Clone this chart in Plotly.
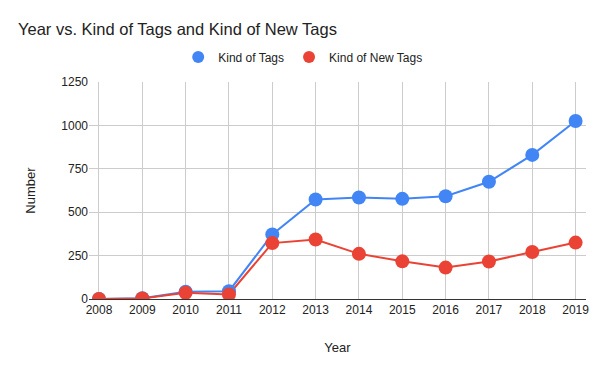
import plotly.graph_objects as go

years = [2008, 2009, 2010, 2011, 2012, 2013, 2014, 2015, 2016, 2017, 2018, 2019]
kind_of_tags = [0, 4, 42, 45, 372, 573, 585, 577, 592, 675, 830, 1025]
kind_of_new_tags = [0, 3, 36, 26, 322, 343, 260, 217, 181, 216, 271, 325]

series = [("Kind of Tags", kind_of_tags, "#4285F4"),
          ("Kind of New Tags", kind_of_new_tags, "#EA4335")]

FONT = "Arial, 'Liberation Sans', sans-serif"

fig = go.Figure()
for name, vals, col in series:
    fig.add_trace(go.Scatter(x=years, y=vals, name=name, mode="lines", legendgroup=name,
                             showlegend=False, line=dict(color=col, width=2), hoverinfo="skip"))
for name, vals, col in series:
    fig.add_trace(go.Scatter(x=years, y=vals, name=name, mode="markers", legendgroup=name,
                             marker=dict(size=14, color=col)))

fig.update_layout(
    width=600, height=371,
    margin=dict(l=89, r=14, t=82, b=72),
    paper_bgcolor="white", plot_bgcolor="white",
    font=dict(family=FONT, size=12, color="#222"),
    title=dict(text="Year vs. Kind of Tags and Kind of New Tags", x=0.03, xanchor="left",
               y=0.92, yanchor="middle", font=dict(family=FONT, size=16.5, color="#222")),
    legend=dict(orientation="h", x=0.43, xanchor="center", y=1.115, yanchor="middle",
                font=dict(family=FONT, size=12, color="#222"), itemsizing="constant"),
    showlegend=True,
)
fig.update_xaxes(
    title=dict(text="Year", standoff=26, font=dict(size=13)),
    range=[2007.77, 2019.24], tickmode="array", tickvals=years, ticktext=[str(y) for y in years],
    tickangle=0,
    showgrid=True, gridcolor="#cccccc", gridwidth=1, zeroline=False,
    showline=True, linecolor="#333333", linewidth=1, ticks="", tickfont=dict(size=12),
)
fig.update_yaxes(
    title=dict(text="Number", standoff=22, font=dict(size=13)),
    range=[0, 1250], tickvals=[0, 250, 500, 750, 1000, 1250],
    showgrid=True, gridcolor="#cccccc", gridwidth=1, zeroline=False,
    showline=False, ticks="", tickfont=dict(size=12),
)
fig.write_html("out.html", config={"displayModeBar": False},
               post_script="document.body.style.margin='0';")
